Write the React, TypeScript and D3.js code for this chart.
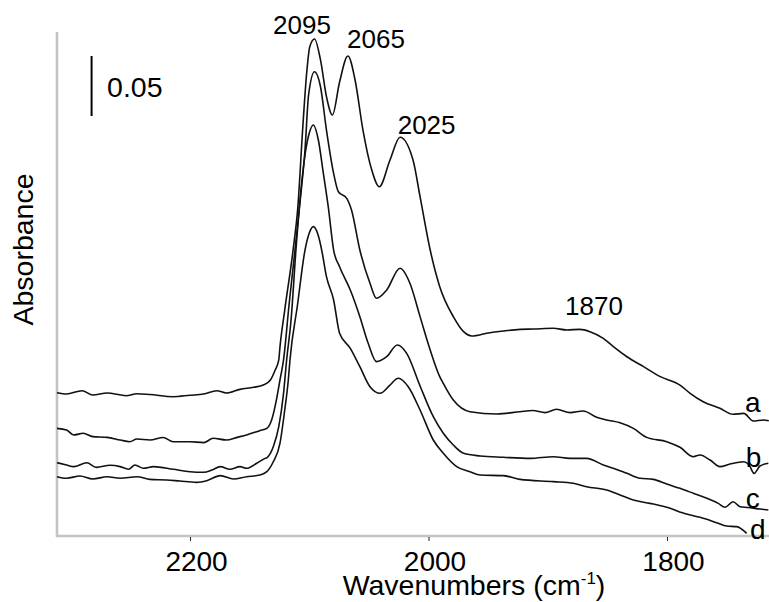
import React from "react";
import * as d3 from "d3";

// spectra: [wavenumber (cm-1), absorbance]
const spectrumA: [number, number][] = [
  [2312, 0.1194], [2304, 0.1183], [2291, 0.1211], [2282, 0.1175], [2270, 0.1192],
  [2254, 0.1169], [2245, 0.1186], [2234, 0.1179], [2214.5, 0.1161], [2200.5, 0.1173],
  [2189, 0.1183], [2178, 0.1211], [2170, 0.1192], [2158.5, 0.1222], [2147, 0.1239],
  [2139, 0.1258], [2133, 0.13], [2129, 0.1383], [2126, 0.1467], [2125, 0.1575],
  [2121, 0.1883], [2114, 0.2383], [2110, 0.2742], [2106, 0.3383], [2102.6, 0.3858],
  [2100, 0.4078], [2096, 0.4142], [2091, 0.3967], [2086, 0.3661], [2081, 0.3508],
  [2075, 0.3783], [2068, 0.4], [2062, 0.38], [2055.4, 0.3383], [2048, 0.305],
  [2041.7, 0.2911], [2032.7, 0.3133], [2024.3, 0.3323], [2013.4, 0.3133], [2007.5, 0.2828],
  [1999, 0.2383], [1991, 0.2078], [1979.6, 0.1828], [1971, 0.1703], [1964, 0.1667],
  [1951.6, 0.1689], [1937.7, 0.1708], [1923.7, 0.1722], [1912.5, 0.1725], [1895.7, 0.1731],
  [1884.5, 0.1717], [1873.4, 0.1722], [1865, 0.1703], [1853.8, 0.1647], [1845.4, 0.1578],
  [1834, 0.1494], [1820, 0.1411], [1806, 0.1328], [1789.5, 0.1258], [1781, 0.1189],
  [1770, 0.1119], [1756, 0.1064], [1745, 0.1014], [1736, 0.1022], [1728, 0.0958],
  [1719.6, 0.0967], [1715, 0.0961],
];

const spectrumB: [number, number][] = [
  [2312, 0.0897], [2304, 0.0883], [2298, 0.0842], [2290, 0.0856], [2282, 0.0828],
  [2270, 0.0822], [2259, 0.08], [2251, 0.0786], [2245, 0.0808], [2234, 0.08],
  [2223, 0.0821], [2214.5, 0.0786], [2200.5, 0.0786], [2189, 0.0778], [2181, 0.0814],
  [2170, 0.08], [2161, 0.0822], [2153, 0.0842], [2142, 0.0878], [2136, 0.0897],
  [2132, 0.0967], [2128, 0.1133], [2125, 0.13], [2122, 0.1467], [2117.4, 0.1925],
  [2112.4, 0.2383], [2108, 0.28], [2104, 0.3217], [2101, 0.3675], [2096, 0.3869],
  [2091, 0.3744], [2086, 0.3383], [2080, 0.3022], [2076, 0.2869], [2069, 0.2814],
  [2065, 0.2717], [2058, 0.2383], [2049.5, 0.2106], [2044, 0.1981], [2035.5, 0.205],
  [2024.3, 0.2231], [2016, 0.2106], [2007.5, 0.1828], [1999, 0.155], [1991, 0.1328],
  [1988, 0.1272], [1979.6, 0.1133], [1965.6, 0.1036], [1943, 0.1017], [1923.7, 0.1036],
  [1913, 0.1046], [1902.7, 0.1028], [1893, 0.1056], [1881.7, 0.1028], [1870.6, 0.1042],
  [1859.4, 0.0989], [1851, 0.0967], [1839.8, 0.0944], [1828.6, 0.0897], [1817.4, 0.0822],
  [1800.6, 0.0786], [1789.5, 0.0739], [1778.3, 0.0661], [1772.7, 0.0675], [1764.3, 0.0633],
  [1756, 0.0578], [1747.5, 0.06], [1736, 0.0619], [1731.5, 0.0592], [1727.4, 0.0522],
  [1722.4, 0.0583], [1715.4, 0.0606],
];

const spectrumC: [number, number][] = [
  [2312, 0.0611], [2304, 0.0592], [2298, 0.0578], [2287, 0.0611], [2279, 0.0572],
  [2267.5, 0.0589], [2259, 0.0578], [2252, 0.0556], [2246.6, 0.0592], [2239.6, 0.0564],
  [2231, 0.0578], [2214.5, 0.0556], [2200.5, 0.0536], [2189, 0.0531], [2182, 0.055],
  [2175, 0.0578], [2167, 0.0556], [2158.5, 0.0578], [2153, 0.0564], [2144.5, 0.0606],
  [2139, 0.0639], [2135, 0.0661], [2130.6, 0.0744], [2126, 0.0911], [2122, 0.1189],
  [2119.4, 0.1467], [2115.7, 0.18], [2111.6, 0.2383], [2107.4, 0.2883], [2104, 0.3175],
  [2100.4, 0.3358], [2097, 0.3425], [2092.8, 0.33], [2088.6, 0.3022], [2084.5, 0.2744],
  [2080, 0.2383], [2075, 0.2244], [2066, 0.205], [2058, 0.1828], [2051, 0.1606],
  [2044, 0.1453], [2035.5, 0.1494], [2026.6, 0.1592], [2018.7, 0.1522], [2007.5, 0.125],
  [1996.4, 0.0994], [1988, 0.0856], [1979.6, 0.0758], [1971, 0.0689], [1957, 0.0667],
  [1937.7, 0.0656], [1915, 0.0647], [1895.7, 0.0661], [1881.7, 0.0647], [1867.7, 0.0647],
  [1853.8, 0.0592], [1845.4, 0.0564], [1834, 0.0522], [1823, 0.0481], [1812, 0.0472],
  [1800.6, 0.0433], [1789.5, 0.0397], [1778.3, 0.0356], [1767, 0.0314], [1757.4, 0.0272],
  [1751.7, 0.0239], [1745, 0.0286], [1739, 0.0244], [1733, 0.0238], [1722.4, 0.0225],
  [1715.4, 0.0217],
];

const spectrumD: [number, number][] = [
  [2312, 0.0494], [2304, 0.0481], [2292.7, 0.05], [2282, 0.0475], [2270, 0.0494],
  [2259, 0.0481], [2245, 0.0494], [2234, 0.0472], [2220, 0.0467], [2209, 0.0458],
  [2195, 0.0447], [2186.4, 0.0461], [2175, 0.0503], [2164, 0.0475], [2153, 0.0494],
  [2142, 0.0508], [2136, 0.0536], [2130.6, 0.0619], [2125, 0.0772], [2121, 0.105],
  [2118, 0.13], [2116.6, 0.1467], [2110.3, 0.1925], [2104, 0.2383], [2100.4, 0.2525],
  [2097, 0.2578], [2093, 0.2508], [2090, 0.2383], [2086, 0.2161], [2080, 0.1967],
  [2075, 0.1689], [2066, 0.1564], [2058, 0.1411], [2049.5, 0.1244], [2041, 0.1189],
  [2032.7, 0.1258], [2025.8, 0.1314], [2017.4, 0.1244], [2007.5, 0.105], [1996.4, 0.08],
  [1988, 0.0689], [1976.8, 0.0578], [1965.6, 0.0536], [1957, 0.0508], [1937.7, 0.0503],
  [1923.7, 0.0472], [1895.7, 0.0453], [1879, 0.0439], [1867.7, 0.0411], [1851, 0.0383],
  [1839.8, 0.0342], [1828.6, 0.03], [1814.6, 0.0272], [1800.6, 0.0239], [1784, 0.0183],
  [1772.7, 0.0156], [1758.7, 0.0111], [1750.3, 0.0083], [1742, 0.0078], [1733.6, 0.0022],
];

const spectra = [spectrumA, spectrumB, spectrumC, spectrumD];

const xTicks = [2200, 2000, 1800];

// peak annotations: text, wavenumber, absorbance of baseline
const peakLabels = ["2095", "2065", "2025", "1870"];
const peakLabelW = [2106.5, 2044.5, 2002, 1861.6];
const peakLabelA = [0.4183, 0.4064, 0.335, 0.1842];

// curve letters
const seriesNames = ["a", "b", "c", "d"];
const seriesLabelW = [1735, 1734.4, 1734.4, 1730.8];
const seriesLabelA = [0.1036, 0.0573, 0.0231, -0.0025];

// scale bar
const scaleBarW = 2283;
const scaleBarRange = [0.35, 0.4];
const scaleBarText = "0.05";
const scaleBarTextW = 2270;
const scaleBarTextA = 0.366;

const W = 769;
const H = 602;
const font = "'Liberation Sans', Arial, Helvetica, sans-serif";

export default function App() {
  const x = d3.scaleLinear().domain([2312, 1714]).range([57, 770]);
  const y = d3.scaleLinear().domain([0, 0.42]).range([536, 32]);

  const line = d3
    .line<[number, number]>()
    .x((d) => x(d[0]))
    .y((d) => y(d[1]))
    .curve(d3.curveMonotoneX);

  const [x0, x1] = x.range();
  const [y0, y1] = y.range();

  return (
    <svg
      width={W}
      height={H}
      style={{ position: "absolute", left: 0, top: 0, background: "#fff" }}
      fontFamily={font}
    >
      {/* axes */}
      <line x1={x0} x2={x0} y1={y1} y2={y0 + 1} stroke="#c4c4c4" strokeWidth={2.6} />
      <line x1={x0 - 1} x2={x1} y1={y0} y2={y0} stroke="#c4c4c4" strokeWidth={2.6} />
      {xTicks.map((t) => (
        <g key={t}>
          <line x1={x(t)} x2={x(t)} y1={y0 + 1} y2={y0 + 5} stroke="#222" strokeWidth={1} />
          <text x={x(t) + 6} y={571} fontSize={28} textAnchor="middle" fill="#000">
            {t}
          </text>
        </g>
      ))}
      <text x={474} y={595} fontSize={28.5} textAnchor="middle" fill="#000">
        Wavenumbers (cm
        <tspan fontSize={17} dy={-11}>-1</tspan>
        <tspan dy={11}>)</tspan>
      </text>
      <text
        transform={`translate(33, 249.5) rotate(-90)`}
        fontSize={28.5}
        textAnchor="middle"
        fill="#000"
      >
        Absorbance
      </text>

      {/* scale bar */}
      <line
        x1={x(scaleBarW)}
        x2={x(scaleBarW)}
        y1={y(scaleBarRange[0])}
        y2={y(scaleBarRange[1])}
        stroke="#000"
        strokeWidth={2}
      />
      <text x={x(scaleBarTextW)} y={y(scaleBarTextA)} fontSize={28.5} fill="#000">
        {scaleBarText}
      </text>

      {/* spectra */}
      {spectra.map((s, i) => (
        <path
          key={i}
          d={line(s) || ""}
          fill="none"
          stroke="#111"
          strokeWidth={1.6}
          strokeLinejoin="round"
        />
      ))}

      {peakLabels.map((p, i) => (
        <text
          key={p}
          x={x(peakLabelW[i])}
          y={y(peakLabelA[i])}
          fontSize={26}
          textAnchor="middle"
          fill="#000"
        >
          {p}
        </text>
      ))}

      {seriesNames.map((n, i) => (
        <text key={n} x={x(seriesLabelW[i])} y={y(seriesLabelA[i])} fontSize={28} fill="#000">
          {n}
        </text>
      ))}
    </svg>
  );
}
